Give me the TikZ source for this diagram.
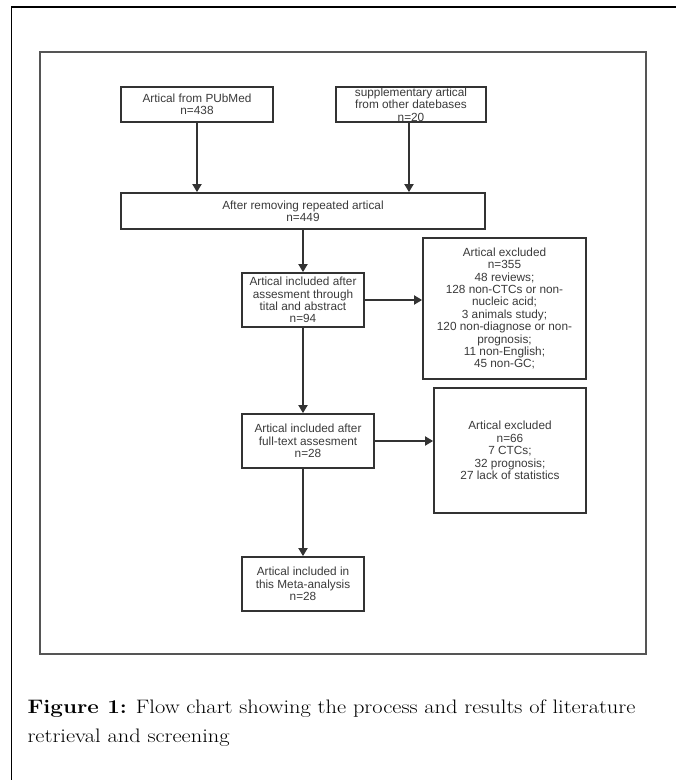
\documentclass[tikz,border=0pt]{standalone}
\usepackage{fontspec}
\usepackage{tikz}
\usetikzlibrary{
arrows.meta,
positioning
}
\newfontfamily\boxfont{Liberation Sans}
\definecolor{frgray}{HTML}{555555}
\definecolor{boxline}{HTML}{333333}
\definecolor{boxtext}{HTML}{3A3A3A}

\begin{document}
\begin{tikzpicture}[
  x=1pt, y=-1pt,
  >={Triangle[length=8pt, width=9pt]},
  flowbox/.style={draw=boxline, line width=1.8pt, align=center, inner sep=0pt,
    text=boxtext, font=\boxfont\fontsize{11.8}{12.4}\selectfont},
  flowarrow/.style={->, line width=1.8pt, draw=boxline},
  captext/.style={anchor=base west, font=\fontsize{19.5}{29}\selectfont}
]
\useasboundingbox (0,0) rectangle (676,780);

% Frames
\draw[line width=1.3pt] (11.5,780) |- (676,7);
\draw[frgray, line width=1.8pt] (40,52) rectangle (646,654);

% Sources
\node[flowbox, minimum width=152pt, minimum height=35pt] (pubmed) at (197,104.5) {Artical from PUbMed\\n=438};
\node[flowbox, minimum width=150pt, minimum height=35pt] (suppl) at (411,104.5) {supplementary artical\\from other datebases\\n=20};

% Screening steps
\node[flowbox, minimum width=364pt, minimum height=36pt] (dedup) at (303,211) {After removing repeated artical\\n=449};
\node[flowbox, minimum width=122pt, minimum height=54pt] (title) at (303,300) {Artical included after\\assesment through\\tital and abstract\\n=94};
\node[flowbox, minimum width=132pt, minimum height=54pt] (fulltext) at (308,441) {Artical included after\\full-text assesment\\n=28};
\node[flowbox, minimum width=122pt, minimum height=54pt] (meta) at (303,584) {Artical included in\\this Meta-analysis\\n=28};

% Exclusions
\node[flowbox, minimum width=163pt, minimum height=141pt] (excla) at (504.5,308.5) {Artical excluded\\n=355\\48 reviews;\\128 non-CTCs or non-\\nucleic acid;\\3 animals study;\\120 non-diagnose or non-\\prognosis;\\11 non-English;\\45 non-GC;};
\node[flowbox, minimum width=152pt, minimum height=125pt] (exclb) at (510,450.5) {Artical excluded\\n=66\\7 CTCs;\\32 prognosis;\\27 lack of statistics};

% Arrows
\draw[flowarrow] (pubmed.south) -- (pubmed.south |- dedup.north);
\draw[flowarrow] ([xshift=-2pt]suppl.south) -- ([xshift=-2pt]suppl.south |- dedup.north);
\draw[flowarrow] (dedup.south) -- (title.north);
\draw[flowarrow] (title.east) -- (title.east -| excla.west);
\draw[flowarrow] (title.south) -- (title.south |- fulltext.north);
\draw[flowarrow] (fulltext.east) -- (fulltext.east -| exclb.west);
\draw[flowarrow] (meta.north |- fulltext.south) -- (meta.north);

% Caption
\node[captext] (caption) at (24,713) {\scalebox{1.15}[1]{\textbf{Figure 1:} Flow chart showing the process and results of literature}};
\node[captext] (captionb) at (24,742) {\scalebox{1.15}[1]{retrieval and screening}};

\end{tikzpicture}
\end{document}
